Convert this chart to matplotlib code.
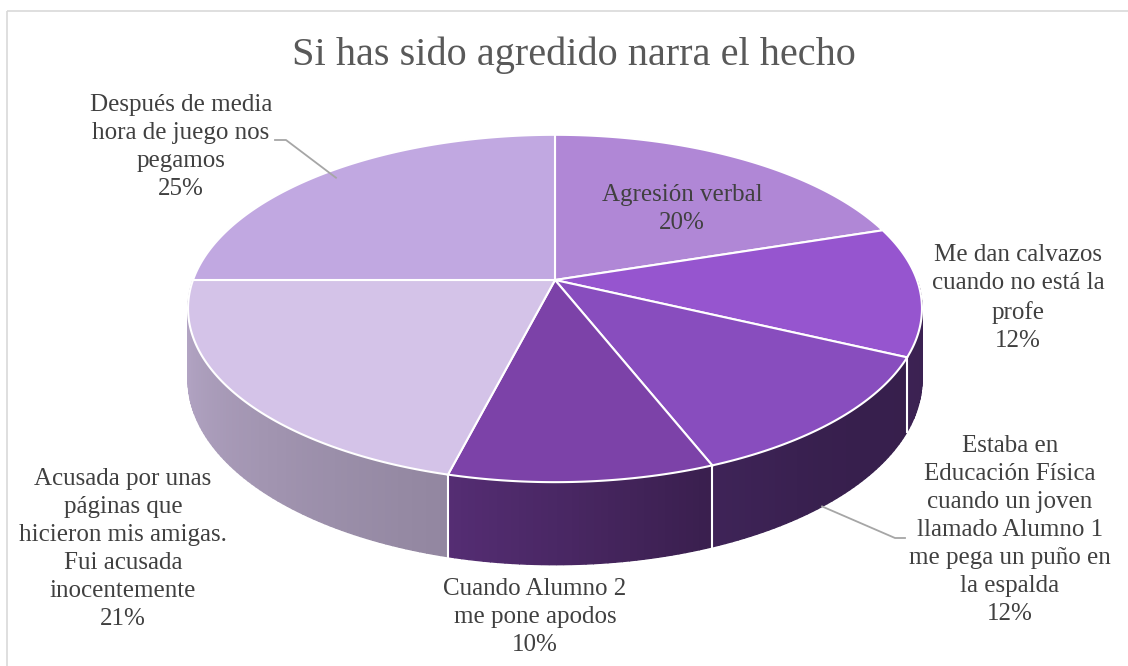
import numpy as np
import matplotlib
matplotlib.use("Agg")
import matplotlib.pyplot as plt
from matplotlib.patches import Polygon, Rectangle
from matplotlib.colors import to_rgb

plt.rcParams['font.family'] = ['Liberation Serif', 'DejaVu Serif']

# datos del grafico
titulo = "Si has sido agredido narra el hecho"
etiquetas = [
    "Agresión verbal",
    "Me dan calvazos\ncuando no está la\nprofe",
    "Estaba en\nEducación Física\ncuando un joven\nllamado Alumno 1\nme pega un puño en\nla espalda",
    "Cuando Alumno 2\nme pone apodos",
    "Acusada por unas\npáginas que\nhicieron mis amigas.\nFui acusada\ninocentemente",
    "Después de media\nhora de juego nos\npegamos",
]
porcentajes = [20, 12, 12, 10, 21, 25]
colores = ['#B087D6', '#9655CF', '#884DBE', '#7C42A8', '#D4C3E8', '#C1A8E1']

# posicion de las etiquetas (pixeles)
pos_etiquetas = [(682, 209), (1018, 298), (1010, 530), (535, 617), (123, 549), (181, 147)]

# geometria del pastel 3D (pixeles)
cx, cy = 555, 280
R, S = 362, 169
k = 0.164
H = 69


def proyectar(theta, r=1.0):
    t = np.radians(theta)
    X = r * np.sin(t)
    Y = r * np.cos(t)
    w = 1 + k * Y
    return cx + R * X / w, cy - S * Y / w, w


def sombra(theta):
    # luz desde la izquierda
    return np.interp(theta, [90, 140, 158, 195, 265], [0.39, 0.41, 0.46, 0.69, 0.86])


fig = plt.figure(figsize=(11.28, 6.66), dpi=100)
ax = fig.add_axes([0, 0, 1, 1])
ax.set_xlim(0, 1128)
ax.set_ylim(666, 0)
ax.axis('off')

ax.add_patch(Rectangle((7, 11), 1140, 700, fill=False, ec='#D9D9D9', lw=1.2))

total = sum(porcentajes)
angulos = np.concatenate([[0], np.cumsum(porcentajes) / total * 360])

# paredes laterales
tiras = []
for i in range(len(porcentajes)):
    a, b = max(angulos[i], 90), min(angulos[i + 1], 270)
    if a >= b:
        continue
    pasos = np.linspace(a, b, int((b - a) / 1.0) + 2)
    base = np.array(to_rgb(colores[i]))
    for t1, t2 in zip(pasos[:-1], pasos[1:]):
        x1, y1, w1 = proyectar(t1)
        x2, y2, w2 = proyectar(t2)
        poly = [(x1, y1), (x2, y2), (x2, y2 + H / w2), (x1, y1 + H / w1)]
        c = np.clip(base * sombra((t1 + t2) / 2), 0, 1)
        tiras.append((abs((t1 + t2) / 2 - 180), poly, c))
tiras.sort(key=lambda x: -x[0])
for _, poly, c in tiras:
    ax.add_patch(Polygon(poly, closed=True, fc=c, ec=c, lw=1.0))

# separadores de las paredes
for t in angulos[1:-1]:
    if 99 < t < 261:
        x, y, w = proyectar(t)
        ax.plot([x, x], [y, y + H / w], color='white', lw=1.5)

# cara superior
for i in range(len(porcentajes)):
    ts = np.linspace(angulos[i], angulos[i + 1], 120)
    x, y, _ = proyectar(ts)
    pts = [(cx, cy)] + list(zip(x, y))
    ax.add_patch(Polygon(pts, closed=True, fc=colores[i], ec='white', lw=1.5))

# etiquetas
for i, (txt, (lx, ly)) in enumerate(zip(etiquetas, pos_etiquetas)):
    ax.text(lx, ly, f"{txt}\n{porcentajes[i]}%", ha='center', va='center',
            multialignment='center', fontsize=18, color='#404040', linespacing=1.36)

# lineas guia
x, y, _ = proyectar((angulos[5] + angulos[6]) / 2, 0.95)
ax.plot([275, 286, x], [140, 140, y], color='#A6A6A6', lw=1.3)
x, y, w = proyectar((angulos[2] + angulos[3]) / 2 + 3)
ax.plot([905, 895, x], [538, 538, y + H / w], color='#A6A6A6', lw=1.3)

ax.text(574, 55, titulo, ha='center', va='center', fontsize=29, color='#595959')

fig.savefig("out.png", dpi=100)
